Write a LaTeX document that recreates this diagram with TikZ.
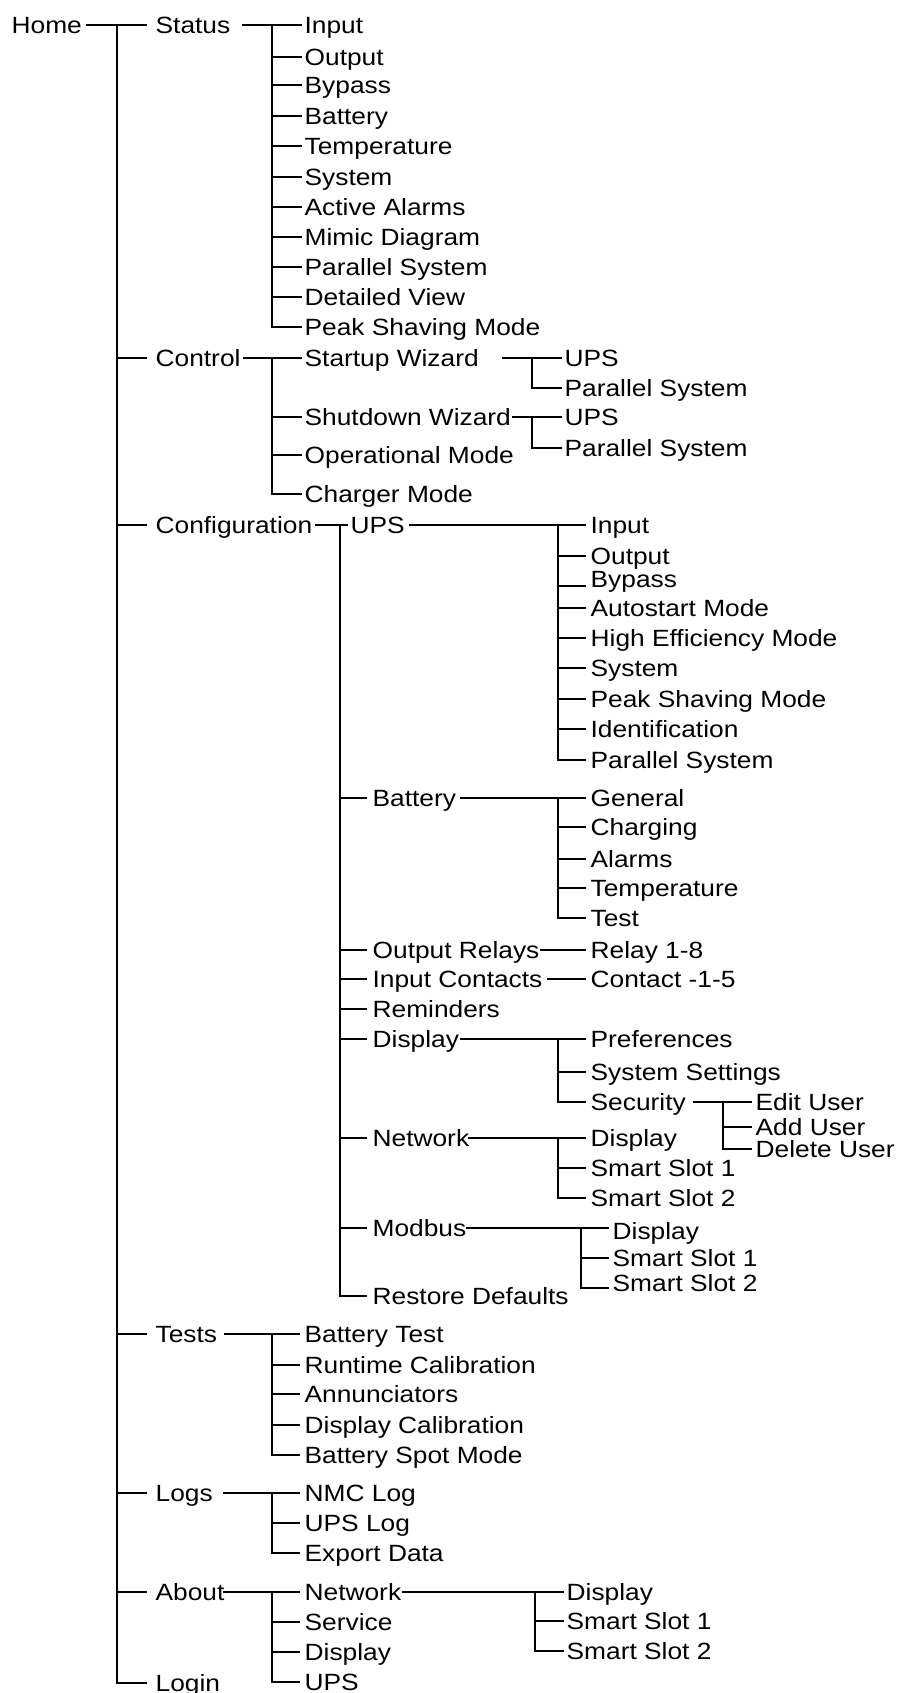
\documentclass[tikz,border=0pt]{standalone}
\usepackage{fontspec}
\setmainfont{Liberation Sans}[FakeStretch=1.12]
\newcommand\branch[4]{%
  \foreach \c [count=\i] in {#4} {%
    \ifnum\i=1 \draw[shorten >=#3pt] (#1) -- (\c.west);\xdef\firstc{\c}%
    \else \draw[shorten >=#3pt] (#2 |- \c.west) -- (\c.west);\fi
    \xdef\lastc{\c}}%
  \draw[shorten >=#3pt] (#2 |- \firstc.west) -- (#2 |- \lastc.west) -- (\lastc.west);
}
\begin{document}
\begin{tikzpicture}[x=1pt,y=-1pt,line width=1.3pt,
  font=\fontsize{23.5}{26}\selectfont,
  item/.style={anchor=west,inner xsep=0pt,inner ysep=0pt,text height=20pt,text depth=3pt}]
\fill[white] (0,0) rectangle (898,1693);
\useasboundingbox (0,0) rectangle (898,1693);
% level 0/1
\node[item] (home) at (11,25) {Home};
\node[item] (status) at (155,25) {Status};
\node[item] (control) at (155,358) {Control};
\node[item] (config) at (155,525) {Configuration};
\node[item] (tests) at (155,1334) {Tests};
\node[item] (logs) at (155,1493) {Logs};
\node[item] (about) at (155,1592) {About};
\node[item] (login) at (155,1683) {Login};
\coordinate (homeS) at (86,25);
\coordinate (homeB) at (117,25);
\branch{homeS}{homeB}{8}{status,control,config,tests,logs,about,login}
% Status
\foreach \n/\y/\t in {s1/25/Input,s2/57/Output,s3/85/Bypass,s4/116/Battery,s5/146/Temperature,s6/177/System,s7/207/Active Alarms,s8/237/Mimic Diagram,s9/267/Parallel System,s10/297/Detailed View,s11/327/Peak Shaving Mode}
  \node[item] (\n) at (304,\y) {\t};
\coordinate (statusS) at (242,25);
\coordinate (statusB) at (272,25);
\branch{statusS}{statusB}{2}{s1,s2,s3,s4,s5,s6,s7,s8,s9,s10,s11}
% Control
\node[item] (c1) at (304,358) {Startup Wizard};
\node[item] (c2) at (304,417) {Shutdown Wizard};
\node[item] (c3) at (304,455) {Operational Mode};
\node[item] (c4) at (304,494) {Charger Mode};
\coordinate (controlS) at (243,358);
\coordinate (controlB) at (272,358);
\branch{controlS}{controlB}{2}{c1,c2,c3,c4}
\node[item] (c1a) at (564,358) {UPS};
\node[item] (c1b) at (564,388) {Parallel System};
\coordinate (c1S) at (502,358);
\coordinate (c1B) at (532,358);
\branch{c1S}{c1B}{2}{c1a,c1b}
\node[item] (c2a) at (564,417) {UPS};
\node[item] (c2b) at (564,448) {Parallel System};
\coordinate (c2S) at (512,417);
\coordinate (c2B) at (532,417);
\branch{c2S}{c2B}{2}{c2a,c2b}
% Configuration
\node[item] (cu) at (350,525) {UPS};
\node[item] (cb) at (372,798) {Battery};
\node[item] (cor) at (372,950) {Output Relays};
\node[item] (cic) at (372,979) {Input Contacts};
\node[item] (crm) at (372,1009) {Reminders};
\node[item] (cd) at (372,1039) {Display};
\node[item] (cn) at (372,1138) {Network};
\node[item] (cm) at (372,1228) {Modbus};
\node[item] (crd) at (372,1296) {Restore Defaults};
\coordinate (configS) at (315,525);
\coordinate (configB) at (340,525);
\draw[shorten >=2pt] (configS) -- (cu.west);
\foreach \c in {cb,cor,cic,crm,cd,cn,cm}
  \draw[shorten >=5pt] (configB |- \c.west) -- (\c.west);
\draw[shorten >=5pt] (configB |- cu.west) -- (configB |- crd.west) -- (crd.west);
% UPS children
\foreach \n/\y/\t in {u1/525/Input,u2/556/Output,u3/586/\raisebox{7pt}{Bypass},u4/608/Autostart Mode,u5/638/High Efficiency Mode,u6/668/System,u7/699/Peak Shaving Mode,u8/729/Identification,u9/760/Parallel System}
  \node[item] (\n) at (590,\y) {\t};
\coordinate (cuS) at (409,525);
\coordinate (cuB) at (558,525);
\branch{cuS}{cuB}{4}{u1,u2,u3,u4,u5,u6,u7,u8,u9}
% Battery children
\foreach \n/\y/\t in {b1/798/General,b2/827/Charging,b3/859/Alarms,b4/888/Temperature,b5/918/Test}
  \node[item] (\n) at (590,\y) {\t};
\coordinate (cbS) at (460,798);
\coordinate (cbB) at (558,798);
\branch{cbS}{cbB}{4}{b1,b2,b3,b4,b5}
% Relays / Contacts
\node[item] (r1) at (590,950) {Relay 1-8};
\node[item] (k1) at (590,979) {Contact -1-5};
\coordinate (corS) at (540,950);
\coordinate (cicS) at (547,979);
\draw[shorten >=4pt] (corS) -- (r1.west);
\draw[shorten >=4pt] (cicS) -- (k1.west);
% Display children
\node[item] (d1) at (590,1039) {Preferences};
\node[item] (d2) at (590,1072) {System Settings};
\node[item] (d3) at (590,1102) {Security};
\coordinate (cdS) at (460,1039);
\coordinate (cdB) at (558,1039);
\branch{cdS}{cdB}{4}{d1,d2,d3}
\node[item] (e1) at (755,1102) {Edit User};
\node[item] (e2) at (755,1127) {Add User};
\node[item] (e3) at (755,1149) {Delete User};
\coordinate (d3S) at (693,1102);
\coordinate (d3B) at (723,1102);
\branch{d3S}{d3B}{3}{e1,e2,e3}
% Network children
\node[item] (n1) at (590,1138) {Display};
\node[item] (n2) at (590,1168) {Smart Slot 1};
\node[item] (n3) at (590,1198) {Smart Slot 2};
\coordinate (cnS) at (468,1138);
\coordinate (cnB) at (558,1138);
\branch{cnS}{cnB}{4}{n1,n2,n3}
% Modbus children
\node[item] (m1) at (612,1228) {\raisebox{-3pt}{Display}};
\node[item] (m2) at (612,1258) {Smart Slot 1};
\node[item] (m3) at (612,1288) {\raisebox{5pt}{Smart Slot 2}};
\coordinate (cmS) at (466,1228);
\coordinate (cmB) at (581,1228);
\branch{cmS}{cmB}{3}{m1,m2,m3}
% Tests
\foreach \n/\y/\t in {t1/1334/Battery Test,t2/1365/Runtime Calibration,t3/1394/Annunciators,t4/1425/Display Calibration,t5/1455/Battery Spot Mode}
  \node[item] (\n) at (304,\y) {\t};
\coordinate (testsS) at (224,1334);
\coordinate (testsB) at (272,1334);
\branch{testsS}{testsB}{4}{t1,t2,t3,t4,t5}
% Logs
\node[item] (l1) at (304,1493) {NMC Log};
\node[item] (l2) at (304,1523) {UPS Log};
\node[item] (l3) at (304,1553) {Export Data};
\coordinate (logsS) at (223,1493);
\coordinate (logsB) at (272,1493);
\branch{logsS}{logsB}{4}{l1,l2,l3}
% About
\node[item] (a1) at (304,1592) {Network};
\node[item] (a2) at (304,1622) {Service};
\node[item] (a3) at (304,1652) {Display};
\node[item] (a4) at (304,1682) {UPS};
\coordinate (aboutS) at (223,1592);
\coordinate (aboutB) at (272,1592);
\branch{aboutS}{aboutB}{4}{a1,a2,a3,a4}
\node[item] (an1) at (566,1592) {Display};
\node[item] (an2) at (566,1621) {Smart Slot 1};
\node[item] (an3) at (566,1651) {Smart Slot 2};
\coordinate (a1S) at (402,1592);
\coordinate (a1B) at (535,1592);
\branch{a1S}{a1B}{2}{an1,an2,an3}
\end{tikzpicture}
\end{document}
